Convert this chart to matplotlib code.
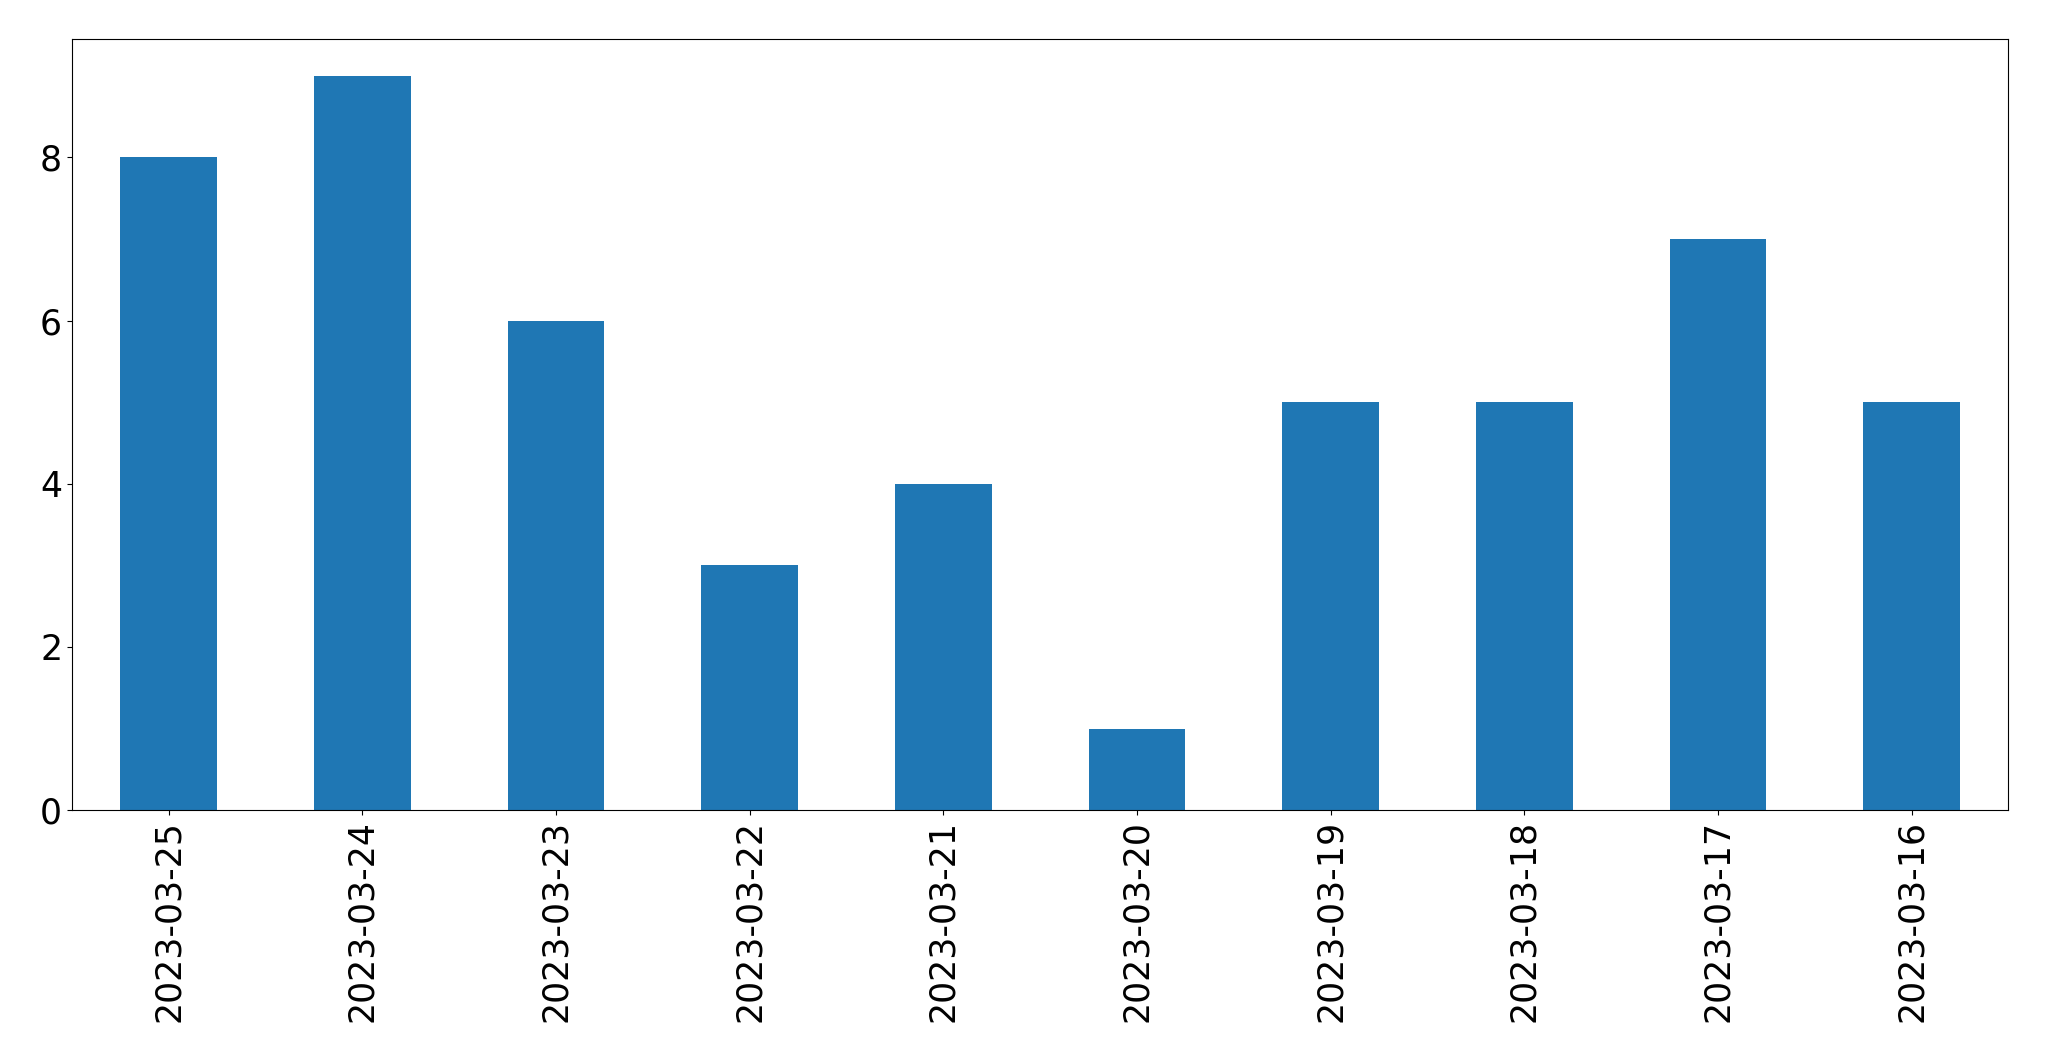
import matplotlib
matplotlib.use("Agg")
import matplotlib.pyplot as plt

dates = ["2023-03-25", "2023-03-24", "2023-03-23", "2023-03-22", "2023-03-21",
         "2023-03-20", "2023-03-19", "2023-03-18", "2023-03-17", "2023-03-16"]
counts = [8, 9, 6, 3, 4, 1, 5, 5, 7, 5]

fig = plt.figure(figsize=(20.49, 10.61), dpi=100)
ax = fig.add_axes([0.0351, 0.2364, 0.9802 - 0.0351, 0.9631 - 0.2364])
x = list(range(len(dates)))
ax.bar(x, counts, width=0.5, color="#1f77b4")
ax.set_xlim(-0.5, len(dates) - 0.5)
ax.set_ylim(0, 9.45)
ax.set_xticks(x)
ax.set_xticklabels(dates, rotation=90)
ax.set_yticks([0, 2, 4, 6, 8])
ax.tick_params(labelsize=25)
fig.savefig("out.png", dpi=100)
